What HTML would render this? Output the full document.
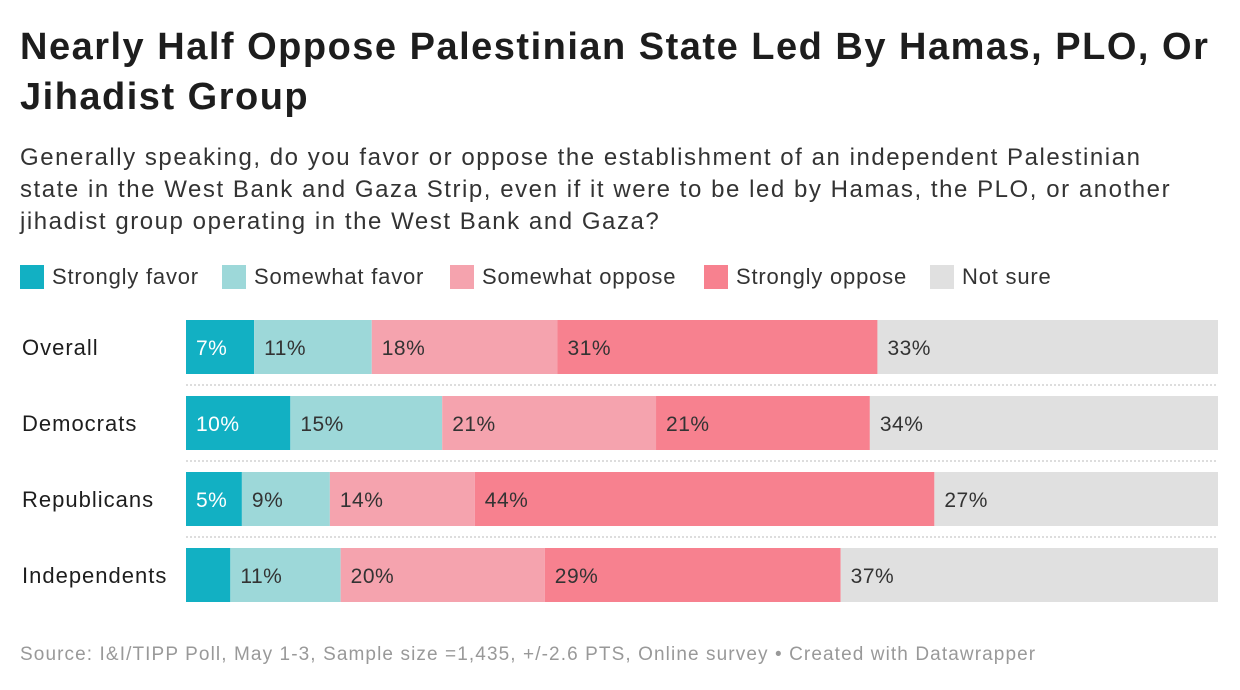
<!DOCTYPE html>
<html><head><meta charset="utf-8"><style>
body{margin:0;background:#fff;font-family:"Liberation Sans",Arial,sans-serif;color:#1d1d1d;}
#wrap{position:relative;width:1240px;height:690px;overflow:hidden;}
h1{position:absolute;left:20px;top:22px;margin:0;font-size:38px;line-height:50px;font-weight:bold;width:1215px;letter-spacing:1.5px;}
.sub{position:absolute;left:20px;top:142px;font-size:24px;line-height:32px;color:#333;width:1170px;letter-spacing:1.55px;}
.leg{position:absolute;top:264px;display:flex;align-items:center;font-size:22px;color:#333;letter-spacing:0.8px;}
.sw{width:24px;height:24px;margin-right:8px;}
.src{position:absolute;left:20px;top:644px;font-size:19px;color:#999;letter-spacing:1.1px;white-space:nowrap;}
</style></head><body><div id="wrap">
<h1>Nearly Half Oppose Palestinian State Led By Hamas, PLO, Or Jihadist Group</h1>
<div class="sub">Generally speaking, do you favor or oppose the establishment of an independent Palestinian state in the West Bank and Gaza Strip, even if it were to be led by Hamas, the PLO, or another jihadist group operating in the West Bank and Gaza?</div>
<div id="legend"></div>
<svg id="svg" width="1240" height="690" style="position:absolute;left:0;top:0"></svg>
<div class="src">Source: I&amp;I/TIPP Poll, May 1-3, Sample size =1,435, +/-2.6 PTS, Online survey • Created with Datawrapper</div>
</div>
<script>
const categories=["Overall","Democrats","Republicans","Independents"];
const seriesNames=["Strongly favor","Somewhat favor","Somewhat oppose","Strongly oppose","Not sure"];
const stronglyFavor=[6.6,10.1,5.4,4.3];
const somewhatFavor=[11.4,14.7,8.5,10.7];
const somewhatOppose=[18.0,20.7,14.0,19.8];
const stronglyOppose=[31.0,20.7,44.4,28.7];
const notSure=[33.0,33.7,27.4,36.6];
const colors=["#12b0c3","#9dd8d9","#f5a3ae","#f7818f","#e0e0e0"];
const series=[stronglyFavor,somewhatFavor,somewhatOppose,stronglyOppose,notSure];
const X0=186,W=1032,rowTop=320,rowStep=76,barH=54;
const x=v=>X0+v/100*W;
const ns="http://www.w3.org/2000/svg",svg=document.getElementById('svg');
function mk(t,a){const e=document.createElementNS(ns,t);for(const k in a)e.setAttribute(k,a[k]);svg.appendChild(e);return e;}
const leg=document.getElementById('legend');
const legX=[20,222,450,704,930];
seriesNames.forEach((n,i)=>{const d=document.createElement('div');d.className='leg';d.style.left=legX[i]+'px';


d.innerHTML='<div class="sw" style="background:'+colors[i]+'"></div>'+n;leg.appendChild(d);});
categories.forEach((c,r)=>{const y=rowTop+r*rowStep;
const t=mk('text',{x:22,y:y+barH/2+8,'font-size':22,fill:'#1d1d1d','letter-spacing':1});t.textContent=c;


let cum=0;const tot=series.reduce((s,a)=>s+a[r],0);
series.forEach((s,i)=>{const v=s[r]/tot*100;const rc=mk('rect',{x:x(cum),y:y,width:x(cum+v)-x(cum),height:barH,fill:colors[i]});


if(s[r]>=5){const l=mk('text',{x:x(cum)+10,y:y+barH/2+8,'font-size':21,fill:i==0?'#fff':'#333','letter-spacing':0.5});l.textContent=Math.round(s[r])+'%';

}
cum+=v;});
if(r<categories.length-1){const ln=mk('line',{x1:186,x2:1218,y1:y+barH+11,y2:y+barH+11,stroke:'#bbb','stroke-dasharray':'2,2'});

}
});
</script></body></html>
